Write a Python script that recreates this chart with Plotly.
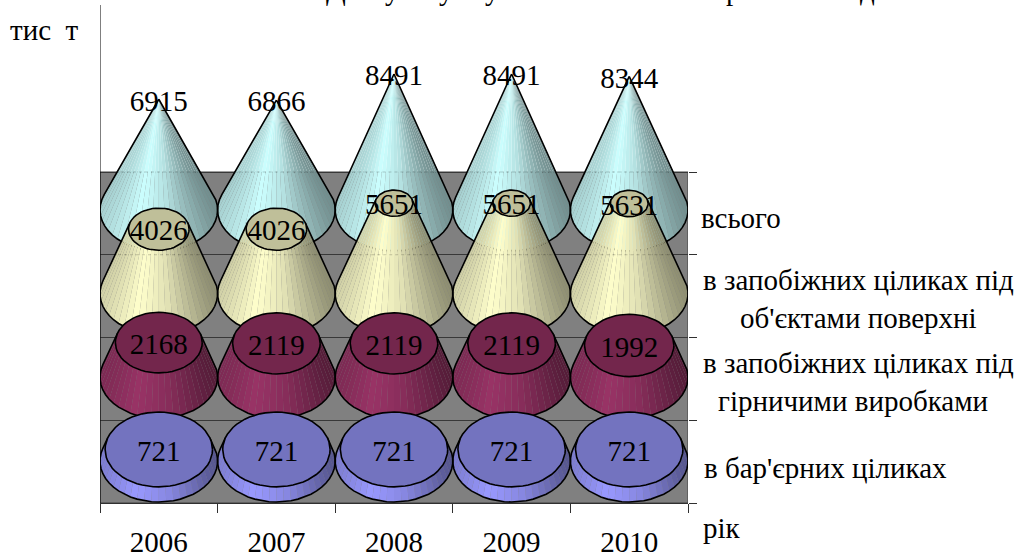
import numpy as np
import plotly.graph_objects as go

# Reserves by pillar type, tonnes x 1000, drawn back to front
years = ["2006", "2007", "2008", "2009", "2010"]
total = [6915, 6866, 8491, 8491, 8344]
surface_pillars = [4026, 4026, 5651, 5651, 5631]
working_pillars = [2168, 2119, 2119, 2119, 1992]
barrier_pillars = [721, 721, 721, 721, 721]

series_values = [total, surface_pillars, working_pillars, barrier_pillars]
series_rgb = [(204, 255, 255), (255, 255, 204), (153, 51, 102), (153, 153, 255)]
series_depth = [3, 2, 1, 0]          # row in the 3-D floor, 0 is nearest the viewer
cone_apex = [None, 8300, 8300, 8300]  # None: the cone closes at its own value
grid_show_through = [4, 3, None, None]  # wall gridline faintly visible on these cones

FONT = "Liberation Serif"
TEXT_SIZE = 29
WIDTH, HEIGHT = 1019, 553
LEFT, RIGHT, TOP, BOTTOM = 100, 688, 5, 503
UNITS_PER_PX = 1 / 0.016
Y_MAX = (BOTTOM - TOP) * UNITS_PER_PX
GRID_STEP = 82.75 * UNITS_PER_PX
ROW_STEP = 83.7 * UNITS_PER_PX
FIRST_ROW = 42 * UNITS_PER_PX
LABEL_DROP = 4 * UNITS_PER_PX
RADIUS = 0.5
SQUASH = 41 * UNITS_PER_PX / RADIUS   # y units of ellipse per x unit of radius
STRIPS = 30


def shade(u):
    return np.interp(u, [0, 0.3, 0.45, 0.6, 1], [0.82, 1.0, 0.94, 0.88, 0.56])


def css(rgb, k=1.0):
    return "rgb({},{},{})".format(*[int(round(c * k)) for c in rgb])


def px_x(p):
    return (p - LEFT) / (RIGHT - LEFT)


def px_y(p):
    return (BOTTOM - p) / (BOTTOM - TOP)


fig = go.Figure()

for values, rgb, depth, apex, grid_level in zip(series_values, series_rgb, series_depth, cone_apex, grid_show_through):
    base_y = FIRST_ROW + depth * ROW_STEP
    sides = [([], []) for _ in range(STRIPS)]
    out_x, out_y, cap_x, cap_y, label_x, label_y, band_u = [], [], [], [], [], [], None
    seam_x, seam_y = [], []
    for i, v in enumerate(values):
        h = apex if apex else v
        r_top = RADIUS * (1 - v / h)
        top_y = base_y + v
        # the silhouette leaves the base ellipse where the tangent from the apex touches it
        phi = np.arcsin(min(1.0, SQUASH * RADIUS / h))
        angles = np.linspace(phi, -np.pi - phi, STRIPS + 1)
        cx, sy = np.cos(angles), np.sin(angles)
        band_u = (1 + np.cos((angles[:-1] + angles[1:]) / 2)) / 2
        base_px = i + RADIUS * cx
        base_py = base_y + SQUASH * RADIUS * sy
        top_px = i + r_top * cx
        top_py = top_y + SQUASH * r_top * sy
        for k in range(STRIPS):
            sides[k][0].extend([base_px[k], base_px[k + 1], top_px[k + 1], top_px[k], None])
            sides[k][1].extend([base_py[k], base_py[k + 1], top_py[k + 1], top_py[k], None])
        out_x += [top_px[0]] + list(base_px) + [top_px[-1], None]
        out_y += [top_py[0]] + list(base_py) + [top_py[-1], None]
        if r_top > 0:
            t = np.linspace(0, 2 * np.pi, 61)
            cap_x += list(i + r_top * np.cos(t)) + [None]
            cap_y += list(top_y + SQUASH * r_top * np.sin(t)) + [None]
        label_x.append(i)
        label_y.append(top_y - LABEL_DROP)
        if grid_level is not None:
            # chord of the cone at the gridline height
            level = grid_level * GRID_STEP
            half = RADIUS * (1 - (level - base_y) / h) * 0.98
            seam_x += [i - half, i + half, None]
            seam_y += [level, level, None]

    # conical side, one trace per shading band
    for k, (xs, ys) in enumerate(sides):
        fig.add_trace(go.Scatter(x=xs, y=ys, mode="lines", fill="toself", line=dict(width=0),
                                 fillcolor=css(rgb, shade(band_u[k])), hoverinfo="skip", showlegend=False))
    if seam_x:
        fig.add_trace(go.Scatter(x=seam_x, y=seam_y, mode="lines",
                                 line=dict(color="rgba(0,0,0,0.2)", width=1, dash="dot"),
                                 hoverinfo="skip", showlegend=False))
    fig.add_trace(go.Scatter(x=out_x, y=out_y, mode="lines", line=dict(color="black", width=1.6),
                             hoverinfo="skip", showlegend=False))
    if cap_x:
        fig.add_trace(go.Scatter(x=cap_x, y=cap_y, mode="lines", fill="toself", fillcolor=css(rgb, 0.75),
                                 line=dict(color="black", width=1.6), hoverinfo="skip", showlegend=False))
    fig.add_trace(go.Scatter(x=label_x, y=label_y, mode="text", text=[str(v) for v in values],
                             textposition="middle center", textfont=dict(family=FONT, size=TEXT_SIZE, color="black"),
                             cliponaxis=False, hoverinfo="skip", showlegend=False))

fig.update_xaxes(
    automargin=False,
    range=[-0.5, 4.5], tickmode="array", tickvals=list(range(5)), ticktext=years,
    showgrid=False, zeroline=False, showline=True, linecolor="#303030", linewidth=1,
    ticks="outside", ticklen=13, tickcolor="rgba(0,0,0,0)",
    tickfont=dict(family=FONT, size=TEXT_SIZE, color="black"),
    minor=dict(tick0=-0.5, dtick=1, ticks="outside", ticklen=9, tickcolor="#303030", tickwidth=1, showgrid=False),
)
fig.update_yaxes(
    automargin=False,
    range=[0, Y_MAX], side="right", tickmode="array", tickvals=[GRID_STEP * n for n in range(5)],
    showticklabels=False, ticks="outside", ticklen=8, tickcolor="#303030", tickwidth=1,
    showgrid=True, gridcolor="#383838", gridwidth=1, zeroline=False, showline=False,
)

fig.add_shape(type="rect", xref="x", yref="y", x0=-0.5, x1=4.5, y0=0, y1=GRID_STEP * 4,
              fillcolor="#808080", line=dict(color="#404040", width=1), layer="below")
fig.add_shape(type="line", xref="x", yref="paper", x0=-0.5, x1=-0.5, y0=0, y1=1,
              line=dict(color="black", width=1), layer="above")

side_labels = [
    ("тис  т", 44.5, 30),
    ("всього", 741, 218),
    ("в запобіжних ціликах під", 858, 280),
    ("об'єктами поверхні", 858, 318),
    ("в запобіжних ціликах під", 858, 363),
    ("гірничими виробками", 853, 401),
    ("в бар'єрних ціликах", 825.5, 468),
    ("рік", 722, 528),
]
annotations = [
    dict(text=t, x=px_x(x), y=px_y(y), xref="paper", yref="paper", showarrow=False,
         xanchor="center", yanchor="middle", font=dict(family=FONT, size=TEXT_SIZE, color="black"))
    for t, x, y in side_labels
]
# heading runs off the top of the page: only its descenders stay in view
heading_glyphs = [("Д", 336), ("у", 392), ("у", 446), ("у", 492), ("р", 733), ("д", 868)]
annotations += [
    dict(text=g, x=px_x(x), y=px_y(-10.5), xref="paper", yref="paper", showarrow=False,
         xanchor="center", yanchor="middle", font=dict(family=FONT, size=TEXT_SIZE, color="black"))
    for g, x in heading_glyphs
]

fig.update_layout(
    width=WIDTH, height=HEIGHT, autosize=False,
    margin=dict(l=LEFT, r=WIDTH - RIGHT, t=TOP, b=HEIGHT - BOTTOM, pad=0),
    paper_bgcolor="white", plot_bgcolor="white", showlegend=False,
    annotations=annotations,
)
fig.write_html("out.html", config=dict(displayModeBar=False))
